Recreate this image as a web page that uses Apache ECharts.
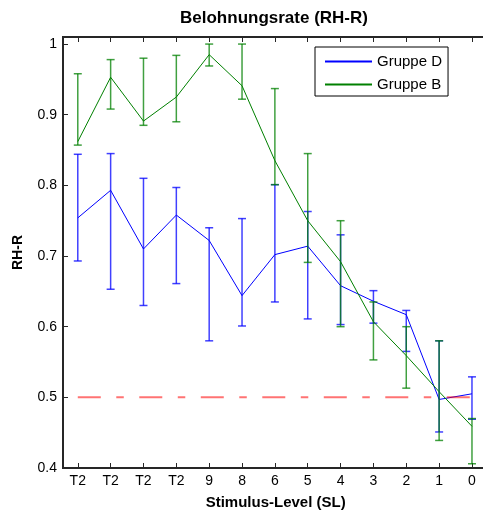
<!DOCTYPE html>
<html>
<head>
<meta charset="utf-8">
<script src="https://cdn.jsdelivr.net/npm/echarts@6/dist/echarts.min.js"></script>
<style>
  html, body { margin: 0; padding: 0; overflow: hidden; background: #fff; }
  #chart { width: 500px; height: 513px; }
</style>
</head>
<body>
<div id="chart"></div>
<script>
// Stimulus levels along the x axis
const categories = ['T2', 'T2', 'T2', 'T2', '9', '8', '6', '5', '4', '3', '2', '1', '0'];

// Gruppe D: mean RH-R with lower / upper error limits
const gruppeDMean  = [0.754, 0.793, 0.710, 0.758, 0.722, 0.644, 0.702, 0.714, 0.658, 0.636, 0.617, 0.497, 0.505];
const gruppeDLower = [0.693, 0.653, 0.630, 0.661, 0.580, 0.601, 0.635, 0.611, 0.603, 0.605, 0.565, 0.451, 0.469];
const gruppeDUpper = [0.844, 0.845, 0.810, 0.797, 0.740, 0.753, 0.801, 0.763, 0.730, 0.651, 0.623, 0.580, 0.529];

// Gruppe B: mean RH-R with lower / upper error limits
const gruppeBMean  = [0.862, 0.953, 0.891, 0.925, 0.985, 0.941, 0.835, 0.750, 0.692, 0.607, 0.559, 0.508, 0.459];
const gruppeBLower = [0.857, 0.908, 0.885, 0.890, 0.969, 0.922, 0.801, 0.691, 0.600, 0.553, 0.513, 0.439, 0.406];
const gruppeBUpper = [0.958, 0.978, 0.980, 0.984, 1.000, 1.000, 0.937, 0.845, 0.750, 0.635, 0.600, 0.580, 0.470];

// Chance level reference
const chanceLevel = 0.5;

// Axis ticks
const yTicks = [0.4, 0.5, 0.6, 0.7, 0.8, 0.9, 1.0];
const xTicks = categories.map((_, i) => i + 1);

const FONT = 'Arial, "Liberation Sans", Helvetica, sans-serif';
const AXIS_COLOR = '#262626';
const BLUE = '#0000ff';
const GREEN = '#008000';

const pts = (arr) => arr.map((v, i) => [i + 1, v]);
const bars = (lo, hi) => lo.map((v, i) => [i + 1, v, hi[i]]);

function errorBarRenderer(color) {
  return function (params, api) {
    const x = api.value(0);
    const pLo = api.coord([x, api.value(1)]);
    const pHi = api.coord([x, api.value(2)]);
    const hw = 4;
    const style = { stroke: color, lineWidth: 1.5, opacity: 0.75 };
    return {
      type: 'group',
      children: [
        { type: 'line', shape: { x1: pLo[0], y1: pLo[1], x2: pHi[0], y2: pHi[1] }, style },
        { type: 'line', shape: { x1: pHi[0] - hw, y1: pHi[1], x2: pHi[0] + hw, y2: pHi[1] }, style },
        { type: 'line', shape: { x1: pLo[0] - hw, y1: pLo[1], x2: pLo[0] + hw, y2: pLo[1] }, style }
      ]
    };
  };
}

const chart = echarts.init(document.getElementById('chart'), null, { renderer: 'canvas' });

const xCommon = {
  type: 'value',
  min: 0.55,
  max: 13.5,
  splitLine: { show: false },
  axisLine: { show: true, onZero: false, lineStyle: { color: AXIS_COLOR, width: 2 } }
};

chart.setOption({
  animation: false,
  backgroundColor: '#fff',
  textStyle: { fontFamily: FONT },
  title: {
    text: 'Belohnungsrate (RH-R)',
    left: 274,
    top: 10,
    textAlign: 'center',
    padding: 0,
    textStyle: { fontFamily: FONT, fontSize: 17, fontWeight: 'bold', color: '#000' }
  },
  legend: {
    data: [
      { name: 'Gruppe D', icon: 'rect' },
      { name: 'Gruppe B', icon: 'rect' }
    ],
    orient: 'vertical',
    left: 315,
    top: 47,
    padding: [7, 6, 4, 10],
    itemGap: 8,
    itemWidth: 47,
    itemHeight: 2,
    borderColor: '#000',
    borderWidth: 1,
    backgroundColor: '#fff',
    textStyle: { fontFamily: FONT, fontSize: 15, lineHeight: 15, color: '#000' }
  },
  grid: {
    left: 63,
    top: 37,
    bottom: 45,
    right: 11.6,
    outerBoundsMode: 'none',
    show: true,
    borderColor: AXIS_COLOR,
    borderWidth: 2,
    backgroundColor: 'transparent'
  },
  xAxis: [
    Object.assign({}, xCommon, {
      position: 'bottom',
      name: 'Stimulus-Level (SL)',
      nameLocation: 'middle',
      nameGap: 27,
      nameTextStyle: { fontFamily: FONT, fontSize: 15, fontWeight: 'bold', color: '#000' },
      axisTick: { show: true, inside: true, length: 5, customValues: xTicks, lineStyle: { color: AXIS_COLOR, width: 1 } },
      axisLabel: {
        show: true,
        customValues: xTicks,
        margin: 6,
        fontFamily: FONT,
        fontSize: 14,
        color: '#000',
        formatter: (v) => categories[Math.round(v) - 1] || ''
      }
    }),
    Object.assign({}, xCommon, {
      position: 'top',
      axisTick: { show: true, inside: true, length: 5, customValues: xTicks, lineStyle: { color: AXIS_COLOR, width: 1 } },
      axisLabel: { show: false }
    })
  ],
  yAxis: {
    type: 'value',
    min: 0.4,
    max: 1.01,
    splitLine: { show: false },
    name: 'RH-R',
    nameLocation: 'middle',
    nameGap: 38,
    nameRotate: 90,
    nameTextStyle: { fontFamily: FONT, fontSize: 14, fontWeight: 'bold', color: '#000' },
    axisLine: { show: true, lineStyle: { color: AXIS_COLOR, width: 2 } },
    axisTick: { show: true, inside: true, length: 5, customValues: yTicks, lineStyle: { color: AXIS_COLOR, width: 1 } },
    axisLabel: {
      show: true,
      customValues: yTicks,
      margin: 6,
      fontFamily: FONT,
      fontSize: 14,
      color: '#000',
      formatter: (v) => (Math.abs(v - 1) < 1e-9 ? '1' : v.toFixed(1))
    }
  },
  series: [
    {
      name: 'Gruppe D bars',
      type: 'custom',
      xAxisIndex: 0,
      renderItem: errorBarRenderer(BLUE),
      encode: { x: 0, y: [1, 2] },
      data: bars(gruppeDLower, gruppeDUpper),
      z: 2,
      silent: true
    },
    {
      name: 'Gruppe D',
      type: 'line',
      xAxisIndex: 0,
      data: pts(gruppeDMean),
      symbol: 'none',
      color: BLUE,
      lineStyle: { color: BLUE, width: 1 },
      z: 3
    },
    {
      name: 'Gruppe B bars',
      type: 'custom',
      xAxisIndex: 0,
      renderItem: errorBarRenderer(GREEN),
      encode: { x: 0, y: [1, 2] },
      data: bars(gruppeBLower, gruppeBUpper),
      z: 4,
      silent: true
    },
    {
      name: 'Gruppe B',
      type: 'line',
      xAxisIndex: 0,
      data: pts(gruppeBMean),
      symbol: 'none',
      color: GREEN,
      lineStyle: { color: GREEN, width: 1 },
      z: 5
    },
    {
      name: 'Chance',
      type: 'line',
      xAxisIndex: 0,
      data: [[1, chanceLevel], [categories.length, chanceLevel]],
      symbol: 'none',
      lineStyle: { color: 'rgba(255,0,0,0.55)', width: 2, type: [23, 15.5, 7.5, 15.5] },
      z: 6,
      silent: true
    }
  ]
});
</script>
</body>
</html>
